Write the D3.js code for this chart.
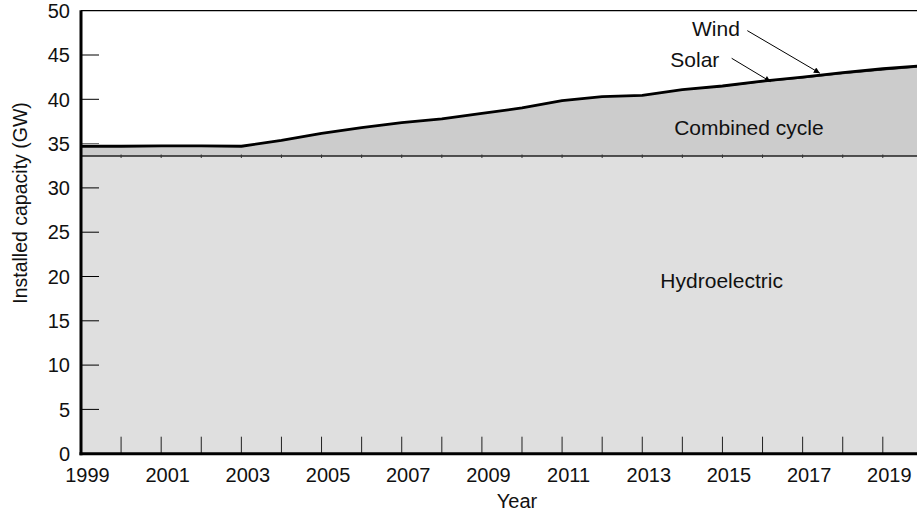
<!DOCTYPE html>
<html>
<head>
<meta charset="utf-8">
<script src="https://cdn.jsdelivr.net/npm/d3@7"></script>
<style>
  html, body { margin: 0; padding: 0; background: #fff; }
  svg { display: block; font-family: "Liberation Sans", Arial, Helvetica, sans-serif; }
</style>
</head>
<body>
<svg id="chart" width="917" height="516"></svg>
<script>
// ---- data ----
const years = [1999,2000,2001,2002,2003,2004,2005,2006,2007,2008,2009,2010,2011,2012,2013,2014,2015,2016,2017,2018,2019,2020];
const hydro = [33.6,33.6,33.6,33.6,33.6,33.6,33.6,33.6,33.6,33.6,33.6,33.6,33.6,33.6,33.6,33.6,33.6,33.6,33.6,33.6,33.6,33.6];
const combinedCycle = [1.1,1.1,1.15,1.15,1.1,1.77,2.56,3.2,3.76,4.2,4.82,5.42,6.22,6.65,6.79,7.42,7.79,8.32,8.75,9.22,9.66,10.0];
const solar = [0,0,0,0,0,0,0,0,0,0,0,0,0,0,0,0,0.01,0.03,0.05,0.06,0.07,0.08];
const wind = [0,0,0,0,0,0,0,0,0,0,0,0,0.02,0.05,0.06,0.08,0.1,0.1,0.1,0.12,0.12,0.12];
const xTickLabels = [1999,2001,2003,2005,2007,2009,2011,2013,2015,2017,2019];
const yTickValues = [0,5,10,15,20,25,30,35,40,45,50];

const svg = d3.select("#chart");
const x = d3.scaleLinear().domain([1999, 2020]).range([81, 922.9]);
const y = d3.scaleLinear().domain([0, 50]).range([453.7, 10.7]);

const rows = years.map((yr, i) => ({year: yr, hydro: hydro[i], combined: combinedCycle[i], solar: solar[i], wind: wind[i]}));
const stack = d3.stack().keys(["hydro","combined","solar","wind"]);
const series = stack(rows);
const fills = {hydro: "#dfdfdf", combined: "#cccccc", solar: "#000", wind: "#000"};

const area = d3.area().x(d => x(d.data.year)).y0(d => y(d[0])).y1(d => y(d[1]));
svg.append("g").selectAll("path").data(series).join("path")
  .attr("d", area).attr("fill", d => fills[d.key]).attr("stroke", "none");

// hydro boundary line
const hydroTop = series[0];
svg.append("path")
  .attr("d", d3.line().x(d => x(d.data.year)).y(d => y(d[1]))(hydroTop))
  .attr("fill", "none").attr("stroke", "#222").attr("stroke-width", 1.5);
// small notches on hydro line
svg.append("g").selectAll("line").data(hydroTop.slice(1, -1)).join("line")
  .attr("x1", d => x(d.data.year)).attr("x2", d => x(d.data.year))
  .attr("y1", d => y(d[1]) - 1.5).attr("y2", d => y(d[1]) + 2)
  .attr("stroke", "#333").attr("stroke-width", 1);

// total top line
const topS = series[3];
svg.append("path")
  .attr("d", d3.line().x(d => x(d.data.year)).y(d => y(d[1]))(topS))
  .attr("fill", "none").attr("stroke", "#000").attr("stroke-width", 2.8).attr("stroke-linejoin", "round");

// top border
svg.append("line").attr("x1", x(1999)).attr("x2", 917).attr("y1", y(50)).attr("y2", y(50))
  .attr("stroke", "#000").attr("stroke-width", 1.3);

// x ticks (inside)
const xTickYears = years.slice(1, -1);
svg.append("g").selectAll("line").data(xTickYears).join("line")
  .attr("x1", d => x(d)).attr("x2", d => x(d))
  .attr("y1", y(0)).attr("y2", y(0) - 17)
  .attr("stroke", "#222").attr("stroke-width", 1);
// y ticks (inside)
svg.append("g").selectAll("line").data(yTickValues.filter(v => v > 0 && v < 50)).join("line")
  .attr("x1", x(1999)).attr("x2", x(1999) + 18)
  .attr("y1", d => y(d)).attr("y2", d => y(d))
  .attr("stroke", d => d === 35 ? "#666" : "#000").attr("stroke-width", 1);

// axes lines
svg.append("line").attr("x1", x(1999)).attr("x2", x(1999)).attr("y1", y(50) - 0.5).attr("y2", y(0) + 1.5)
  .attr("stroke", "#000").attr("stroke-width", 3);
svg.append("line").attr("x1", x(1999) - 1.5).attr("x2", 917).attr("y1", y(0)).attr("y2", y(0))
  .attr("stroke", "#000").attr("stroke-width", 3);

// tick labels
svg.append("g").selectAll("text").data(yTickValues).join("text")
  .attr("x", 70).attr("y", d => y(d)).attr("dy", "0.36em")
  .attr("text-anchor", "end").attr("font-size", 20).attr("fill", "#111").text(d => d);
svg.append("g").selectAll("text").data(xTickLabels).join("text")
  .attr("x", d => x(d) + 6.5).attr("y", 482)
  .attr("text-anchor", "middle").attr("font-size", 20).attr("fill", "#111").text(d => d);

// axis titles
svg.append("text").attr("x", 517).attr("y", 507.5).attr("text-anchor", "middle")
  .attr("font-size", 20).attr("fill", "#111").text("Year");
svg.append("text").attr("transform", "translate(27,203) rotate(-90)").attr("text-anchor", "middle")
  .attr("font-size", 19.5).attr("fill", "#111").text("Installed capacity (GW)");

// area labels
svg.append("text").attr("x", x(2015.66)).attr("y", y(35.97)).attr("text-anchor", "middle")
  .attr("font-size", 21).attr("fill", "#111").text("Combined cycle");
svg.append("text").attr("x", x(2014.98)).attr("y", y(18.67)).attr("text-anchor", "middle")
  .attr("font-size", 21).attr("fill", "#111").text("Hydroelectric");

// annotations with arrows
const notes = [
  {label: "Wind", tx: 2014.24, ty: 47.15, sx: 2015.62, sy: 47.75, ex: 2017.43, ey: 42.95},
  {label: "Solar", tx: 2013.7, ty: 43.68, sx: 2015.23, sy: 44.63, ex: 2016.2, ey: 41.99}
];
svg.append("defs").append("marker").attr("id", "ah")
  .attr("viewBox", "0 0 10 10").attr("refX", 10).attr("refY", 5)
  .attr("markerWidth", 10).attr("markerHeight", 6).attr("markerUnits", "userSpaceOnUse")
  .attr("orient", "auto")
  .append("path").attr("d", "M0,0 L10,5 L0,10 Z").attr("fill", "#000");
notes.forEach(n => {
  svg.append("text").attr("x", x(n.tx)).attr("y", y(n.ty)).attr("font-size", 21).attr("fill", "#111").text(n.label);
  svg.append("line").attr("x1", x(n.sx)).attr("y1", y(n.sy)).attr("x2", x(n.ex)).attr("y2", y(n.ey))
    .attr("stroke", "#000").attr("stroke-width", 1).attr("marker-end", "url(#ah)");
});
</script>
</body>
</html>
